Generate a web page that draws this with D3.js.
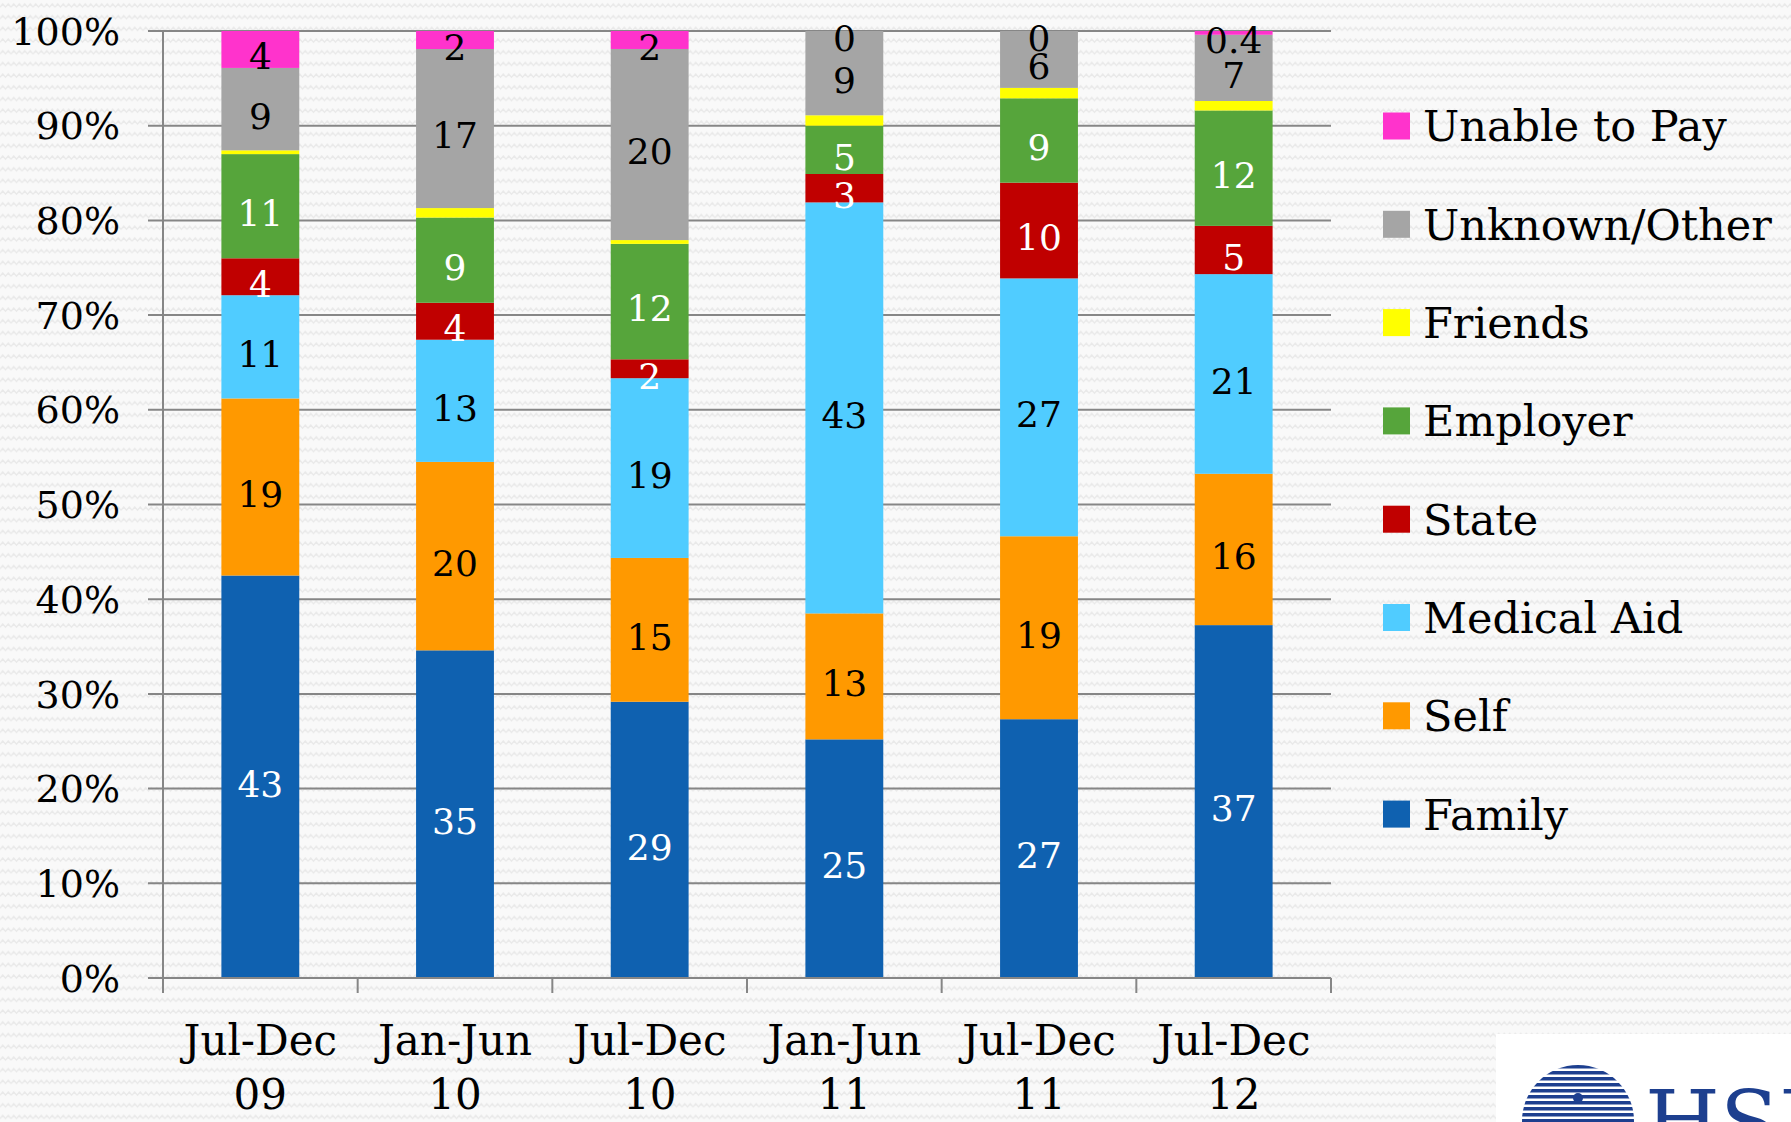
<!DOCTYPE html>
<html>
<head>
<meta charset="utf-8">
<script src="https://cdn.jsdelivr.net/npm/d3@7"></script>
<style>
html,body{margin:0;padding:0;background:#f8f8f8;}
svg{display:block;}
</style>
</head>
<body>
<svg id="chart" width="1791" height="1122"></svg>
<script>
// ---- data ----
const categories = ["Jul-Dec 09", "Jan-Jun 10", "Jul-Dec 10", "Jan-Jun 11", "Jul-Dec 11", "Jul-Dec 12"];
const seriesNames = ["Family", "Self", "Medical Aid", "State", "Employer", "Friends", "Unknown/Other", "Unable to Pay"];
const family   = [42.5, 34.6, 29.2, 25.2, 27.3, 37.3];
const self     = [18.7, 19.9, 15.2, 13.3, 19.3, 16.0];
const medical  = [10.9, 12.9, 19.0, 43.4, 27.2, 21.1];
const state    = [3.9, 3.9, 2.0, 3.0, 10.1, 5.1];
const employer = [11.0, 9.0, 12.2, 5.1, 8.9, 12.2];
const friends  = [0.4, 1.0, 0.4, 1.1, 1.1, 1.0];
const unknown  = [8.7, 16.8, 20.2, 8.9, 6.0, 7.0];
const unable   = [3.9, 1.9, 1.9, 0, 0, 0.4];
// data labels shown on the segments ("" = not shown)
const familyLabels   = ["43", "35", "29", "25", "27", "37"];
const selfLabels     = ["19", "20", "15", "13", "19", "16"];
const medicalLabels  = ["11", "13", "19", "43", "27", "21"];
const stateLabels    = ["4", "4", "2", "3", "10", "5"];
const employerLabels = ["11", "9", "12", "5", "9", "12"];
const friendsLabels  = ["", "", "", "", "", ""];
const unknownLabels  = ["9", "17", "20", "9", "6", "7"];
const unableLabels   = ["4", "2", "2", "0", "0", "0.4"];
const yTicks = [0, 0.1, 0.2, 0.3, 0.4, 0.5, 0.6, 0.7, 0.8, 0.9, 1.0];

const seriesValues = [family, self, medical, state, employer, friends, unknown, unable];
const seriesLabels = [familyLabels, selfLabels, medicalLabels, stateLabels, employerLabels, friendsLabels, unknownLabels, unableLabels];
const seriesColors = ["#0F61B0", "#FF9900", "#50CCFF", "#C00000", "#56A53B", "#FFFF00", "#A5A5A5", "#FF33CC"];
const labelColors  = ["#ffffff", "#000000", "#000000", "#ffffff", "#ffffff", "#000000", "#000000", "#000000"];

const table = categories.map((c, i) => {
  const row = {cat: c};
  seriesNames.forEach((s, k) => row[s] = seriesValues[k][i]);
  return row;
});

const svg = d3.select("#chart");
const FONT = "'DejaVu Serif', 'Liberation Serif', serif";

// background texture
const defs = svg.append("defs");
const pat = defs.append("pattern").attr("id", "bg").attr("patternUnits", "userSpaceOnUse")
  .attr("width", 11).attr("height", 11.7);
pat.append("rect").attr("width", 11).attr("height", 11.7).attr("fill", "#f9f9f9");
pat.append("path").attr("d", "M0,7 L2.75,4 L5.5,7 L8.25,4 L11,7").attr("fill", "none")
  .attr("stroke", "#e9e9e9").attr("stroke-width", 1.3);
svg.append("rect").attr("width", 1791).attr("height", 1122).attr("fill", "url(#bg)");

const plotLeft = 163, plotRight = 1331, plotTop = 31, plotBottom = 978;

const x = d3.scaleBand().domain(categories).range([plotLeft, plotRight]).paddingInner(0.6).paddingOuter(0.3);
const y = d3.scaleLinear().domain([0, 1]).range([plotBottom, plotTop]);

// gridlines
svg.append("g").selectAll("line").data(yTicks).join("line")
  .attr("x1", plotLeft - 15).attr("x2", plotRight)
  .attr("y1", d => y(d)).attr("y2", d => y(d))
  .attr("stroke", "#868686").attr("stroke-width", 2);

// y tick labels
svg.append("g").selectAll("text").data(yTicks).join("text")
  .attr("x", 120).attr("y", d => y(d)).attr("dy", "0.36em")
  .attr("text-anchor", "end")
  .attr("font-family", FONT).attr("font-size", 38).attr("fill", "#000")
  .text(d => d3.format(".0%")(d));

// y axis line
svg.append("line").attr("x1", plotLeft).attr("x2", plotLeft).attr("y1", plotTop).attr("y2", plotBottom)
  .attr("stroke", "#868686").attr("stroke-width", 2);

// x axis ticks at category boundaries
const step = x.step();
const boundaries = d3.range(categories.length + 1).map(i => plotLeft + i * step);
svg.append("g").selectAll("line").data(boundaries).join("line")
  .attr("x1", d => d).attr("x2", d => d).attr("y1", plotBottom).attr("y2", plotBottom + 15)
  .attr("stroke", "#868686").attr("stroke-width", 2);

// stacked bars
const stack = d3.stack().keys(seriesNames).offset(d3.stackOffsetExpand);
const stacked = stack(table);

const layers = svg.append("g").selectAll("g").data(stacked).join("g")
  .attr("fill", (d, k) => seriesColors[k]);
layers.selectAll("rect").data(d => d).join("rect")
  .attr("x", d => x(d.data.cat))
  .attr("width", x.bandwidth())
  .attr("y", d => y(d[1]))
  .attr("height", d => Math.max(0, y(d[0]) - y(d[1])));

// x axis line (over bars)
svg.append("line").attr("x1", plotLeft - 15).attr("x2", plotRight).attr("y1", plotBottom).attr("y2", plotBottom)
  .attr("stroke", "#868686").attr("stroke-width", 2);

// data labels
const lab = svg.append("g").attr("font-family", FONT).attr("font-size", 36).attr("text-anchor", "middle");
stacked.forEach((layer, k) => {
  layer.forEach((d, i) => {
    const t = seriesLabels[k][i];
    if (!t) return;
    lab.append("text")
      .attr("x", x(d.data.cat) + x.bandwidth() / 2)
      .attr("y", (y(d[0]) + y(d[1])) / 2)
      .attr("dy", "0.55em")
      .attr("fill", labelColors[k])
      .text(t);
  });
});

// x category labels (two lines)
const xl = svg.append("g").attr("font-family", FONT).attr("font-size", 42).attr("text-anchor", "middle").attr("fill", "#000");
categories.forEach(c => {
  const parts = c.split(" ");
  const cx = x(c) + x.bandwidth() / 2;
  xl.append("text").attr("x", cx).attr("y", 1055).text(parts[0]);
  xl.append("text").attr("x", cx).attr("y", 1109).text(parts[1]);
});

// legend (top to bottom: reverse stack order)
const legendOrder = seriesNames.map((s, k) => k).reverse();
const lg = svg.append("g");
legendOrder.forEach((k, r) => {
  const cy = 126 + r * 98.3;
  lg.append("rect").attr("x", 1383).attr("y", cy - 13.5).attr("width", 27).attr("height", 27)
    .attr("fill", seriesColors[k]);
  lg.append("text").attr("x", 1423).attr("y", cy).attr("dy", "0.36em")
    .attr("font-family", FONT).attr("font-size", 43).attr("fill", "#000")
    .text(seriesNames[k]);
});

// HSRC logo (decoration)
const logo = svg.append("g");
logo.append("rect").attr("x", 1496).attr("y", 1034).attr("width", 295).attr("height", 88).attr("fill", "#ffffff");
defs.append("clipPath").attr("id", "circ").append("circle").attr("cx", 1578).attr("cy", 1121).attr("r", 56);
const stripes = logo.append("g").attr("clip-path", "url(#circ)");
d3.range(1065, 1122, 6).forEach(yy => {
  stripes.append("rect").attr("x", 1520).attr("y", yy).attr("width", 116).attr("height", 3.5).attr("fill", "#1d3f8f");
});
logo.append("circle").attr("cx", 1578).attr("cy", 1098).attr("r", 5).attr("fill", "#1d3f8f");
logo.append("text").attr("x", 1645).attr("y", 1152).attr("font-family", FONT).attr("font-size", 86)
  .attr("fill", "#1d3f8f").text("HSRC");
</script>
</body>
</html>
